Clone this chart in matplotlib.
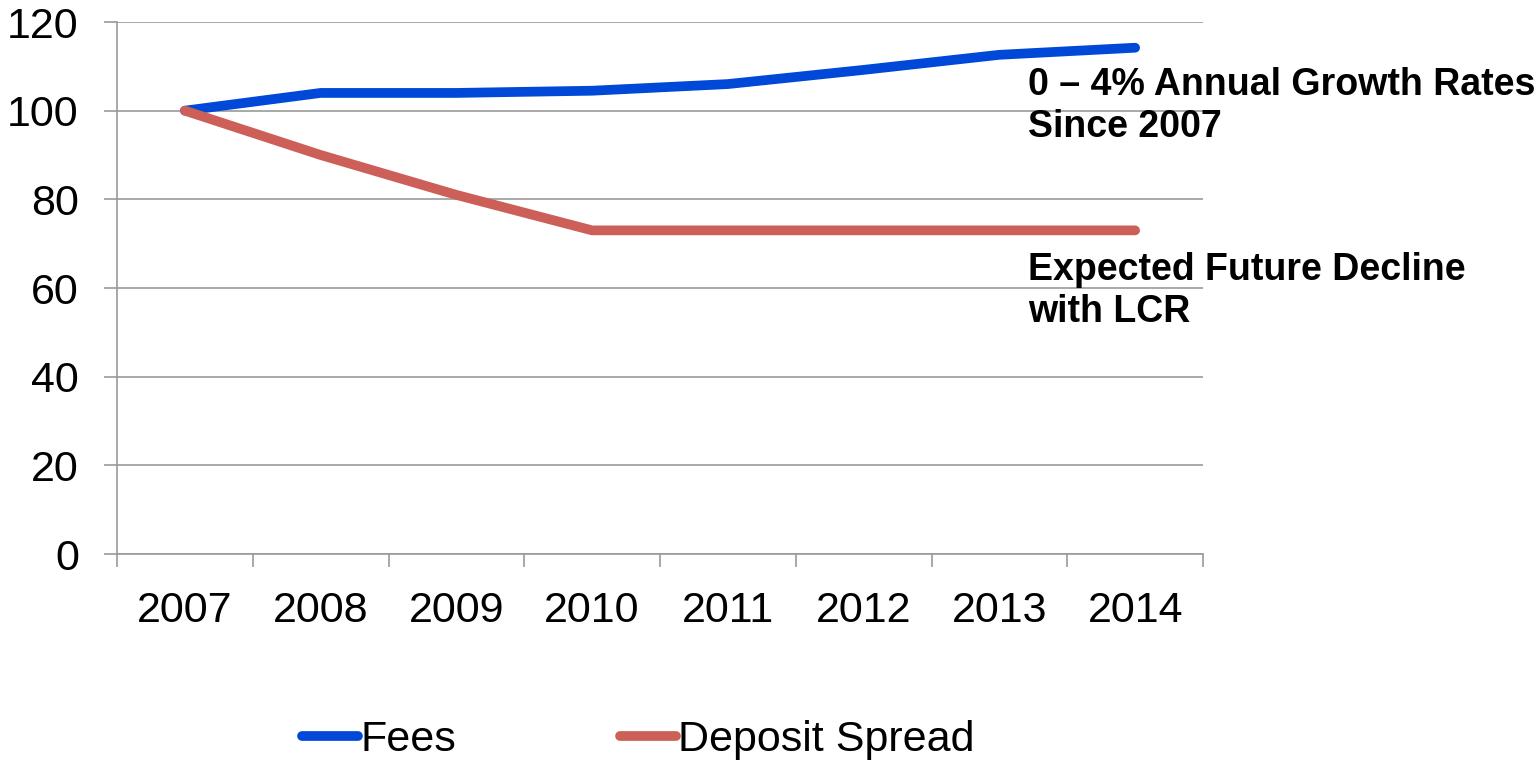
import matplotlib.pyplot as plt
import numpy as np

plt.rcParams['font.family'] = ['Liberation Sans', 'DejaVu Sans']

years = ['2007', '2008', '2009', '2010', '2011', '2012', '2013', '2014']
fees = [100, 104, 104, 104.5, 106, 109.2, 112.6, 114.2]
deposit_spread = [100, 90, 81, 73, 73, 73, 73, 73]

fees_note = ['0 \u2013 4% Annual Growth Rates', 'Since 2007']
spread_note = ['Expected Future Decline', 'with LCR']

BLUE = '#0048D8'
RED = '#CC5F57'
GRID = '#9A9A9A'

fig = plt.figure(figsize=(15.38, 7.65), dpi=100)
ax = fig.add_axes([117 / 1538, 1 - 554 / 765, (1203 - 117) / 1538, (554 - 22) / 765])

x = np.arange(len(years))
ax.plot(x, fees, color=BLUE, lw=7, solid_capstyle='round', label='Fees', zorder=3)
ax.plot(x, deposit_spread, color=RED, lw=7, solid_capstyle='round',
        label='Deposit Spread', zorder=3)

ax.set_xlim(-0.5, len(years) - 0.5)
ax.set_ylim(0, 120)
ax.set_yticks(np.arange(0, 121, 20))
ax.yaxis.grid(True, color=GRID, lw=1.2)
ax.set_axisbelow(True)

# category ticks sit between the years, labels centred on the years
ax.set_xticks(np.arange(-0.5, len(years), 1.0))
ax.set_xticklabels([])
ax.set_xticks(x, minor=True)
ax.set_xticklabels(years, minor=True)
ax.tick_params(axis='x', which='major', length=9, width=1.2, color=GRID)
ax.tick_params(axis='x', which='minor', length=0, pad=27, labelsize=31)
ax.tick_params(axis='y', length=9.5, width=1.2, color=GRID, pad=18, labelsize=31)

for s in ['top', 'right']:
    ax.spines[s].set_visible(False)
for s in ['left', 'bottom']:
    ax.spines[s].set_color(GRID)
    ax.spines[s].set_linewidth(1.2)

# notes to the right of the line ends, one text per line
for i, line in enumerate(fees_note):
    fig.text(1028 / 1538, 1 - (95 + 42 * i) / 765, line,
             fontsize=27, fontweight='bold', va='baseline', ha='left')
for i, line in enumerate(spread_note):
    fig.text(1028 / 1538, 1 - (280 + 42 * i) / 765, line,
             fontsize=27, fontweight='bold', va='baseline', ha='left')

fig.legend(loc='center', bbox_to_anchor=(0.415, 0.033), ncol=2, frameon=False,
           fontsize=31, handlelength=1.3, handletextpad=0.05, columnspacing=3.8)

fig.savefig('out.png', dpi=100)
